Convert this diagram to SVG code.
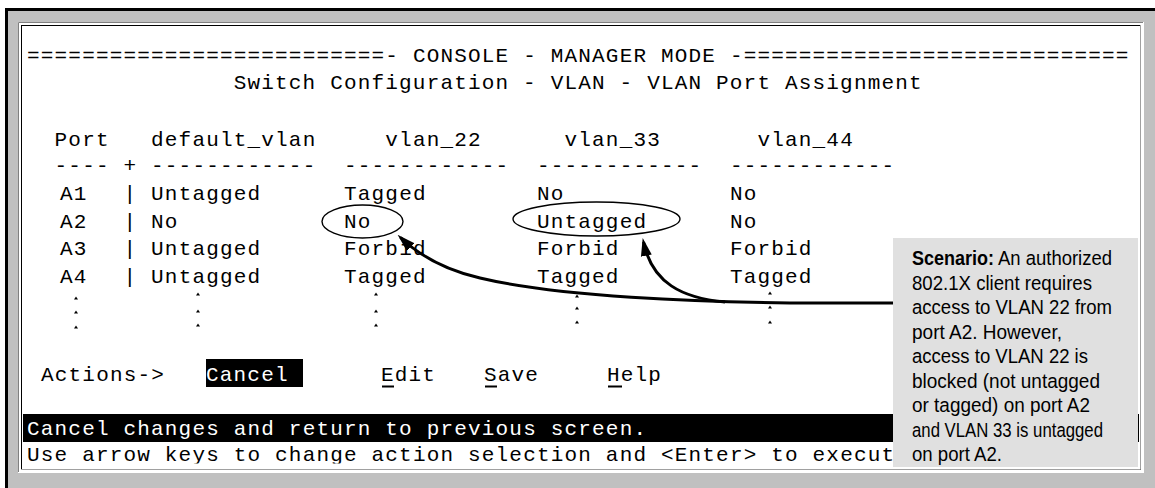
<svg xmlns="http://www.w3.org/2000/svg" width="1155" height="488" viewBox="0 0 1155 488">
  <defs>
    <style>
      .mono { font-family: "Liberation Mono", "DejaVu Sans Mono", monospace; font-size: 21px; letter-spacing: 1.18px; fill: #000; white-space: pre; }
      .inv { fill: #fff; }
      .note { font-family: "Liberation Sans", Arial, sans-serif; font-size: 20.5px; fill: #000; }
      .ring { fill: none; stroke: #000; stroke-width: 1.4; }
      .lead { fill: none; stroke: #000; stroke-width: 3; }
    </style>
    <marker id="head" viewBox="0 0 18 12" refX="14" refY="6" markerWidth="18" markerHeight="12" markerUnits="userSpaceOnUse" orient="auto">
      <path d="M0,0.5 L18,6 L0,11.5 z" fill="#000"/>
    </marker>
    <!-- one small console dot; three stacked make a vertical ellipsis -->
    <symbol id="vdots" overflow="visible">
      <path d="M-2,1.5 L0,-1.5 L2,1.5 z" fill="#000"/>
    </symbol>
    <clipPath id="lastline">
      <rect x="20" y="440" width="1120" height="23.5"/>
    </clipPath>
  </defs>

  <rect width="1155" height="488" fill="#fff"/>

  <!-- window frame: black edge on top/left, grey bevel, sunken screen -->
  <g id="frame">
    <rect x="5" y="8" width="1150" height="480" fill="#c0c0c0"/>
    <rect x="5" y="8" width="1150" height="3" fill="#000"/>
    <rect x="5" y="8" width="3" height="480" fill="#000"/>
    <rect x="18" y="22" width="1126" height="451" fill="#fff"/>
    <path d="M18.5,472 V22.5 H1143" stroke="#808080" stroke-width="1" fill="none"/>
    <rect x="21" y="25" width="1120" height="445" fill="#000"/>
    <rect x="22" y="26" width="1118" height="443" fill="#fff"/>
    <path d="M1140.5,25 V469.5 H21" stroke="#a0a0a0" stroke-width="1" fill="none"/>
  </g>

  <!-- console screen text -->
  <g id="screen">
    <text class="mono" x="27" y="62" xml:space="preserve">==========================- CONSOLE - MANAGER MODE -============================</text>
    <text class="mono" x="233.7" y="89" xml:space="preserve">Switch Configuration - VLAN - VLAN Port Assignment</text>
    <text class="mono" x="27" y="146" xml:space="preserve">  Port   default_vlan     vlan_22      vlan_33       vlan_44</text>
    <text class="mono" x="27" y="172" xml:space="preserve">  ---- + ------------  ------------  ------------  ------------</text>

    <text class="mono" x="60" y="200">A1</text>
    <text class="mono" x="60" y="228">A2</text>
    <text class="mono" x="60" y="255">A3</text>
    <text class="mono" x="60" y="283">A4</text>
    <text class="mono" x="123.5" y="200" xml:space="preserve">| Untagged      Tagged        No            No</text>
    <text class="mono" x="123.5" y="228" xml:space="preserve">| No            No            Untagged      No</text>
    <text class="mono" x="123.5" y="255" xml:space="preserve">| Untagged      Forbid        Forbid        Forbid</text>
    <text class="mono" x="123.5" y="283" xml:space="preserve">| Untagged      Tagged        Tagged        Tagged</text>

    <use href="#vdots" x="76" y="298"/><use href="#vdots" x="76" y="312"/><use href="#vdots" x="76" y="327"/>
    <use href="#vdots" x="198" y="294"/><use href="#vdots" x="198" y="311"/><use href="#vdots" x="198" y="325"/>
    <use href="#vdots" x="376" y="294"/><use href="#vdots" x="376" y="311"/><use href="#vdots" x="376" y="325"/>
    <use href="#vdots" x="577" y="296"/><use href="#vdots" x="577" y="308"/><use href="#vdots" x="577" y="322"/>
    <use href="#vdots" x="770" y="293"/><use href="#vdots" x="770" y="307"/><use href="#vdots" x="770" y="322"/>

    <text class="mono" x="41" y="381">Actions-&gt;</text>
    <rect x="206" y="359" width="97" height="28" fill="#000"/>
    <text class="mono inv" x="206" y="381">Cancel</text>
    <text class="mono" x="381" y="381">Edit</text>
    <text class="mono" x="484" y="381">Save</text>
    <text class="mono" x="607" y="381">Help</text>
    <rect x="382" y="385.5" width="12" height="2" fill="#000"/>
    <rect x="485" y="385.5" width="12" height="2" fill="#000"/>
    <rect x="608" y="385.5" width="14" height="2" fill="#000"/>

    <rect x="23" y="414" width="1116" height="28" fill="#000"/>
    <text class="mono inv" x="27" y="435">Cancel changes and return to previous screen.</text>
    <text class="mono" x="27" y="461" clip-path="url(#lastline)" xml:space="preserve">Use arrow keys to change action selection and &lt;Enter&gt; to execut</text>
  </g>

  <!-- highlighted cells -->
  <g id="ring-vlan22">
    <ellipse class="ring" cx="362.5" cy="221.5" rx="40.5" ry="16.5"/>
  </g>
  <g id="ring-vlan33">
    <ellipse class="ring" cx="596.5" cy="219" rx="83.5" ry="17"/>
  </g>

  <!-- leader lines from the callout -->
  <g id="connectors">
    <path class="lead" d="M893,303 L790,303 C700,302 560,297 480,278 C445,270 420,256 400.5,237.5" marker-end="url(#head)"/>
    <path class="lead" d="M725,302 C682,298 652,283 643.5,242" marker-end="url(#head)"/>
  </g>

  <!-- scenario callout -->
  <g id="callout">
    <rect x="893" y="238" width="245" height="229" fill="#e0e0e0"/>
    <text class="note" x="912" y="265" font-weight="bold" textLength="82" lengthAdjust="spacingAndGlyphs">Scenario:</text>
    <text class="note" x="998" y="265" textLength="114" lengthAdjust="spacingAndGlyphs">An authorized</text>
    <text class="note" x="912" y="289.5" textLength="180" lengthAdjust="spacingAndGlyphs">802.1X client requires</text>
    <text class="note" x="912" y="314" textLength="200" lengthAdjust="spacingAndGlyphs">access to VLAN 22 from</text>
    <text class="note" x="912" y="338.5" textLength="150" lengthAdjust="spacingAndGlyphs">port A2. However,</text>
    <text class="note" x="912" y="363" textLength="176" lengthAdjust="spacingAndGlyphs">access to VLAN 22 is</text>
    <text class="note" x="912" y="387.5" textLength="188" lengthAdjust="spacingAndGlyphs">blocked (not untagged</text>
    <text class="note" x="912" y="412" textLength="178" lengthAdjust="spacingAndGlyphs">or tagged) on port A2</text>
    <text class="note" x="912" y="436.5" textLength="191" lengthAdjust="spacingAndGlyphs">and VLAN 33 is untagged</text>
    <text class="note" x="912" y="461" textLength="90" lengthAdjust="spacingAndGlyphs">on port A2.</text>
  </g>
</svg>
